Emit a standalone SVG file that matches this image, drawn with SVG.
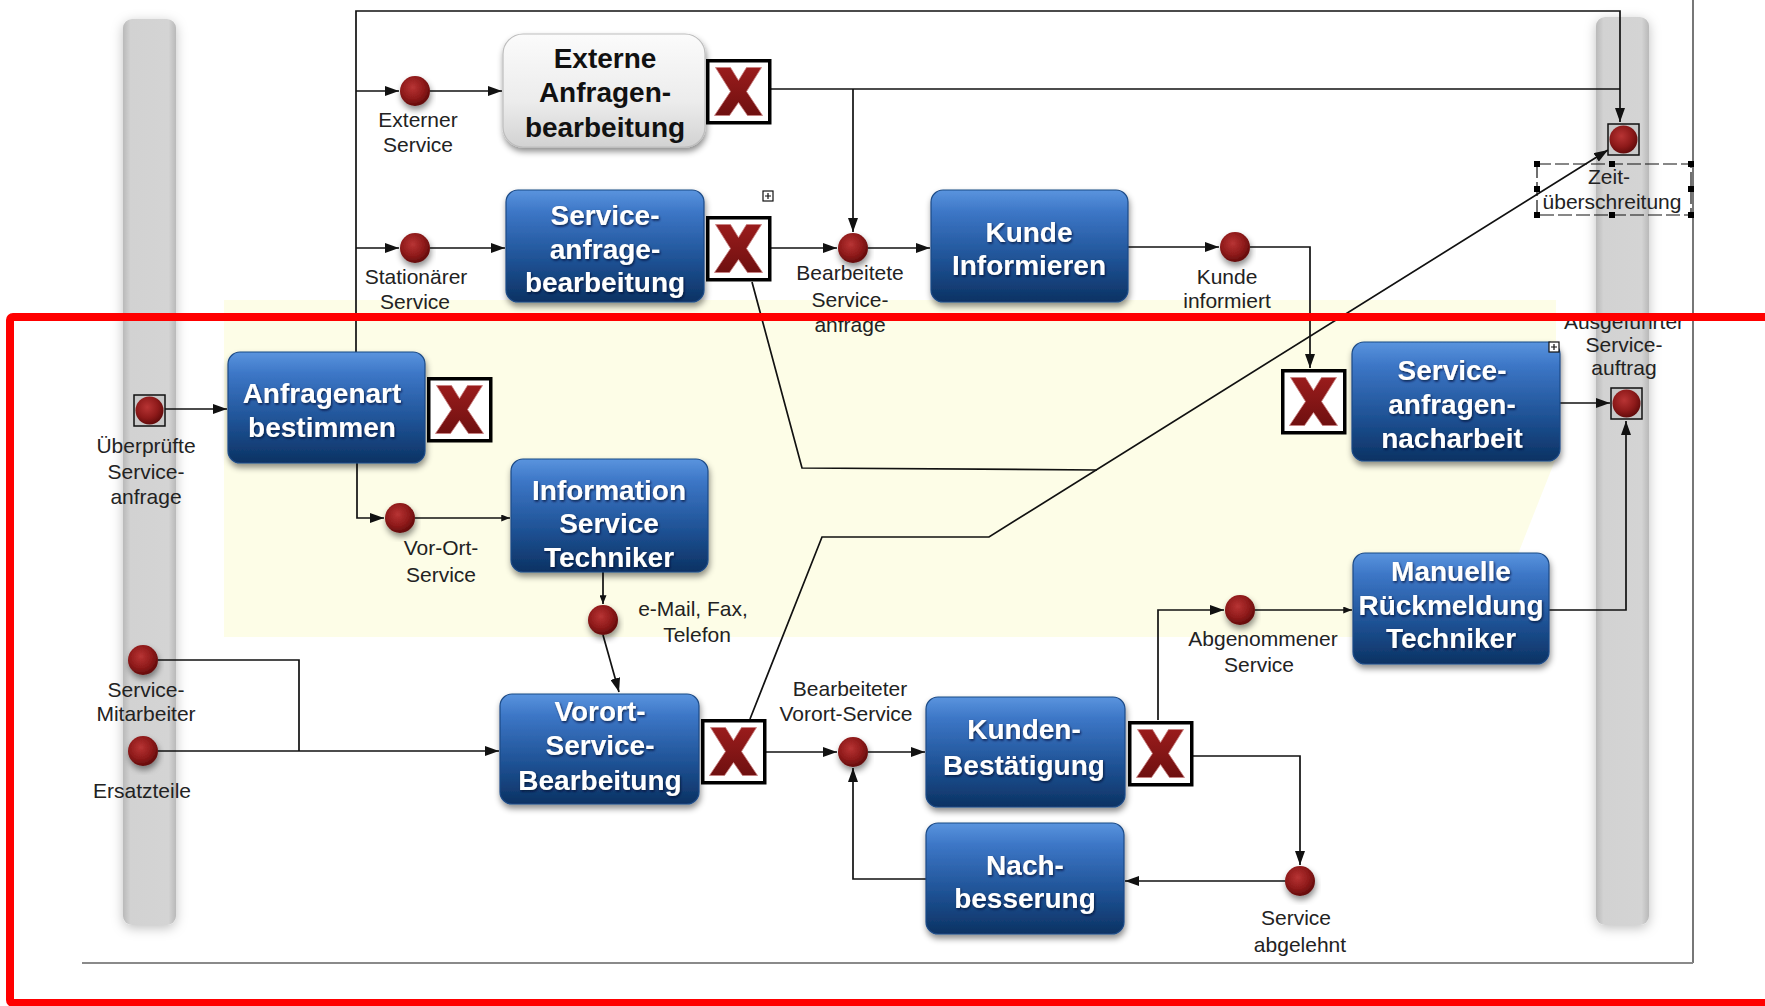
<svg xmlns="http://www.w3.org/2000/svg" xmlns:xlink="http://www.w3.org/1999/xlink" width="1765" height="1006" viewBox="0 0 1765 1006">
<defs>
<style>
.lbl{font-family:"Liberation Sans",Arial,sans-serif;font-size:21px;fill:#222;text-anchor:middle}
.tw{font-family:"Liberation Sans",Arial,sans-serif;font-size:28px;font-weight:bold;fill:#fff;text-anchor:middle}
.tb{font-family:"Liberation Sans",Arial,sans-serif;font-size:28px;font-weight:bold;fill:#111;text-anchor:middle}
.task{fill:url(#blue);stroke:#1b4a86;stroke-width:1.2}
.con{fill:none;stroke:#111;stroke-width:1.7}
.bar{fill:url(#barg)}
</style>
<linearGradient id="blue" x1="0" y1="0" x2="0" y2="1">
<stop offset="0" stop-color="#5a94de"/>
<stop offset="0.2" stop-color="#3c76c6"/>
<stop offset="0.65" stop-color="#1d5092"/>
<stop offset="1" stop-color="#0c3263"/>
</linearGradient>
<linearGradient id="grayb" x1="0" y1="0" x2="0" y2="1">
<stop offset="0" stop-color="#fbfbfb"/>
<stop offset="0.6" stop-color="#ececec"/>
<stop offset="1" stop-color="#d2d2d2"/>
</linearGradient>
<linearGradient id="barg" x1="0" y1="0" x2="1" y2="0">
<stop offset="0" stop-color="#b9b9b9"/>
<stop offset="0.14" stop-color="#d2d2d2"/>
<stop offset="0.86" stop-color="#d4d4d4"/>
<stop offset="1" stop-color="#b9b9b9"/>
</linearGradient>
<radialGradient id="red" cx="0.42" cy="0.38" r="0.65">
<stop offset="0" stop-color="#b83434"/>
<stop offset="0.6" stop-color="#8e1a1a"/>
<stop offset="1" stop-color="#5e0a0a"/>
</radialGradient>
<linearGradient id="xr" x1="0" y1="0" x2="0" y2="1">
<stop offset="0" stop-color="#9a1c1c"/>
<stop offset="1" stop-color="#6f1010"/>
</linearGradient>
<filter id="sh" x="-20%" y="-20%" width="140%" height="150%">
<feDropShadow dx="1" dy="4" stdDeviation="3" flood-color="#000" flood-opacity="0.45"/>
</filter>
<filter id="bsh" x="-60%" y="-5%" width="220%" height="110%">
<feDropShadow dx="0" dy="3" stdDeviation="6" flood-color="#000" flood-opacity="0.25"/>
</filter>
<filter id="tsh" x="-10%" y="-30%" width="120%" height="160%">
<feDropShadow dx="1" dy="1.5" stdDeviation="0.8" flood-color="#001030" flood-opacity="0.8"/>
</filter>
<marker id="ar" viewBox="0 0 14 10" refX="14" refY="5" markerWidth="14" markerHeight="10" markerUnits="userSpaceOnUse" orient="auto">
<path d="M0,0 L14,5 L0,10 z" fill="#111"/>
</marker>
<marker id="ars" viewBox="0 0 10 8" refX="10" refY="4" markerWidth="9" markerHeight="7" markerUnits="userSpaceOnUse" orient="auto">
<path d="M0,0 L10,4 L0,8 z" fill="#111"/>
</marker>
<g id="gw">
<rect x="1.75" y="1.75" width="62" height="62" fill="#fff" stroke="#000" stroke-width="3.5"/>
<polygon points="9.5,8.5 24.5,8.5 32.5,21.5 40.5,8.5 55.5,8.5 40.5,32.5 56.5,56.5 41.5,56.5 32.5,43.5 23.5,56.5 8.5,56.5 24.5,32.5" fill="url(#xr)" stroke="#c98080" stroke-width="0.8"/>
</g>
<g id="ev">
<circle r="15" fill="url(#red)" filter="url(#sh)"/>
</g>
<g id="sq">
<rect x="0" y="0" width="31" height="31" fill="#c9c9c9" stroke="#111" stroke-width="1.5"/>
<circle cx="15.5" cy="15.5" r="14" fill="url(#red)"/>
</g>
<g id="icon">
<rect x="0" y="0" width="10" height="10" fill="#fff" stroke="#111" stroke-width="1.2"/>
<path d="M5,2 V8 M2,5 H8" stroke="#111" stroke-width="1.2"/>
</g>
</defs>

<rect width="1765" height="1006" fill="#fff"/>

<g id="background">
<polygon points="224,300 1556,300 1556,458 1485,637 224,637" fill="#fdfde7"/>
<rect class="bar" x="123" y="19" width="53" height="906" rx="9" filter="url(#bsh)"/>
<rect class="bar" x="1596" y="17" width="53" height="908" rx="9" filter="url(#bsh)"/>
<line x1="1693" y1="0" x2="1693" y2="963" stroke="#777" stroke-width="2"/>
<line x1="82" y1="963" x2="1693" y2="963" stroke="#8a8a8a" stroke-width="2"/>
</g>

<g id="connectors">
<path class="con" d="M356,352 V11 H1620 V122" marker-end="url(#ar)"/>
<path class="con" d="M356,91 H399" marker-end="url(#ar)"/>
<path class="con" d="M430,91 H502" marker-end="url(#ar)"/>
<path class="con" d="M356,248 H399" marker-end="url(#ar)"/>
<path class="con" d="M430,248 H505" marker-end="url(#ar)"/>
<path class="con" d="M771,89 H1620"/>
<path class="con" d="M853,89 V232" marker-end="url(#ar)"/>
<path class="con" d="M771,248 H837" marker-end="url(#ar)"/>
<path class="con" d="M868,248 H930" marker-end="url(#ar)"/>
<path class="con" d="M1128,247 H1219" marker-end="url(#ar)"/>
<path class="con" d="M1250,247 H1310 V368" marker-end="url(#ar)"/>
<path class="con" d="M752,282 L802,468 L1097,470"/>
<path class="con" d="M750,719 L822,537 L989,537 L1608,150" marker-end="url(#ar)"/>
<path class="con" d="M165,409 H227" marker-end="url(#ar)"/>
<path class="con" d="M357,463 V518 H384" marker-end="url(#ar)"/>
<path class="con" d="M415,518 H510" marker-end="url(#ars)"/>
<path class="con" d="M603,572 V604" marker-end="url(#ars)"/>
<path class="con" d="M603,635 L619,692" marker-end="url(#ar)"/>
<path class="con" d="M158,660 H299 V751"/>
<path class="con" d="M158,751 H499" marker-end="url(#ar)"/>
<path class="con" d="M766,752 H837" marker-end="url(#ar)"/>
<path class="con" d="M868,752 H925" marker-end="url(#ar)"/>
<path class="con" d="M1158,720 V610 H1224" marker-end="url(#ar)"/>
<path class="con" d="M1255,610 H1352" marker-end="url(#ars)"/>
<path class="con" d="M1549,610 H1626 V421" marker-end="url(#ar)"/>
<path class="con" d="M1560,403 H1610" marker-end="url(#ar)"/>
<path class="con" d="M1193,756 H1300 V865" marker-end="url(#ar)"/>
<path class="con" d="M1285,881 H1125" marker-end="url(#ar)"/>
<path class="con" d="M926,879 H853 V768" marker-end="url(#ar)"/>
</g>

<g id="externe-anfragenbearbeitung">
<rect x="503" y="34" width="202" height="113" rx="20" fill="url(#grayb)" stroke="#bdbdbd" stroke-width="1.2" filter="url(#sh)"/>
<text class="tb" x="605" y="68">Externe</text>
<text class="tb" x="605" y="102">Anfragen-</text>
<text class="tb" x="605" y="137">bearbeitung</text>
<use href="#gw" x="706" y="59"/>
</g>

<g id="serviceanfrage-bearbeitung">
<rect class="task" x="506" y="190" width="198" height="112" rx="12" filter="url(#sh)"/>
<g filter="url(#tsh)">
<text class="tw" x="605" y="225">Service-</text>
<text class="tw" x="605" y="259">anfrage-</text>
<text class="tw" x="605" y="292">bearbeitung</text>
</g>
<use href="#gw" x="706" y="216"/>
<use href="#icon" x="763" y="191"/>
</g>

<g id="kunde-informieren">
<rect class="task" x="931" y="190" width="197" height="112" rx="12" filter="url(#sh)"/>
<g filter="url(#tsh)">
<text class="tw" x="1029" y="242">Kunde</text>
<text class="tw" x="1029" y="275">Informieren</text>
</g>
</g>

<g id="anfragenart-bestimmen">
<rect class="task" x="228" y="352" width="197" height="111" rx="12" filter="url(#sh)"/>
<g filter="url(#tsh)">
<text class="tw" x="322" y="403">Anfragenart</text>
<text class="tw" x="322" y="437">bestimmen</text>
</g>
<use href="#gw" x="427" y="377"/>
</g>

<g id="information-service-techniker">
<rect class="task" x="511" y="459" width="197" height="113" rx="12" filter="url(#sh)"/>
<g filter="url(#tsh)">
<text class="tw" x="609" y="500">Information</text>
<text class="tw" x="609" y="533">Service</text>
<text class="tw" x="609" y="567">Techniker</text>
</g>
</g>

<g id="vorort-service-bearbeitung">
<rect class="task" x="500" y="694" width="199" height="110" rx="12" filter="url(#sh)"/>
<g filter="url(#tsh)">
<text class="tw" x="600" y="721">Vorort-</text>
<text class="tw" x="600" y="755">Service-</text>
<text class="tw" x="600" y="790">Bearbeitung</text>
</g>
<use href="#gw" x="701" y="719"/>
</g>

<g id="kunden-bestaetigung">
<rect class="task" x="926" y="697" width="199" height="110" rx="12" filter="url(#sh)"/>
<g filter="url(#tsh)">
<text class="tw" x="1024" y="739">Kunden-</text>
<text class="tw" x="1024" y="775">Bestätigung</text>
</g>
<use href="#gw" x="1128" y="721"/>
</g>

<g id="nachbesserung">
<rect class="task" x="926" y="823" width="198" height="111" rx="12" filter="url(#sh)"/>
<g filter="url(#tsh)">
<text class="tw" x="1025" y="875">Nach-</text>
<text class="tw" x="1025" y="908">besserung</text>
</g>
</g>

<g id="serviceanfragen-nacharbeit">
<rect class="task" x="1352" y="342" width="208" height="119" rx="12" filter="url(#sh)"/>
<g filter="url(#tsh)">
<text class="tw" x="1452" y="380">Service-</text>
<text class="tw" x="1452" y="414">anfragen-</text>
<text class="tw" x="1452" y="448">nacharbeit</text>
</g>
<use href="#gw" x="1281" y="369"/>
<use href="#icon" x="1549" y="342"/>
</g>

<g id="manuelle-rueckmeldung-techniker">
<rect class="task" x="1353" y="553" width="196" height="111" rx="12" filter="url(#sh)"/>
<g filter="url(#tsh)">
<text class="tw" x="1451" y="581">Manuelle</text>
<text class="tw" x="1451" y="615">Rückmeldung</text>
<text class="tw" x="1451" y="648">Techniker</text>
</g>
</g>

<g id="ev-externer-service">
<use href="#ev" x="415" y="91"/>
<text class="lbl" x="418" y="127">Externer</text>
<text class="lbl" x="418" y="152">Service</text>
</g>
<g id="ev-stationaerer-service">
<use href="#ev" x="415" y="248"/>
<text class="lbl" x="416" y="284">Stationärer</text>
<text class="lbl" x="415" y="309">Service</text>
</g>
<g id="ev-bearbeitete-serviceanfrage">
<use href="#ev" x="853" y="248"/>
<text class="lbl" x="850" y="280">Bearbeitete</text>
<text class="lbl" x="850" y="307">Service-</text>
<text class="lbl" x="850" y="332">anfrage</text>
</g>
<g id="ev-kunde-informiert">
<use href="#ev" x="1235" y="247"/>
<text class="lbl" x="1227" y="284">Kunde</text>
<text class="lbl" x="1227" y="308">informiert</text>
</g>
<g id="ev-vor-ort-service">
<use href="#ev" x="400" y="518"/>
<text class="lbl" x="441" y="555">Vor-Ort-</text>
<text class="lbl" x="441" y="582">Service</text>
</g>
<g id="ev-email-fax-telefon">
<use href="#ev" x="603" y="620"/>
<text class="lbl" x="693" y="616">e-Mail, Fax,</text>
<text class="lbl" x="697" y="642">Telefon</text>
</g>
<g id="ev-service-mitarbeiter">
<use href="#ev" x="143" y="660"/>
<text class="lbl" x="146" y="697">Service-</text>
<text class="lbl" x="146" y="721">Mitarbeiter</text>
</g>
<g id="ev-ersatzteile">
<use href="#ev" x="143" y="751"/>
<text class="lbl" x="142" y="798">Ersatzteile</text>
</g>
<g id="ev-bearbeiteter-vorort-service">
<use href="#ev" x="853" y="752"/>
<text class="lbl" x="850" y="696">Bearbeiteter</text>
<text class="lbl" x="846" y="721">Vorort-Service</text>
</g>
<g id="ev-abgenommener-service">
<use href="#ev" x="1240" y="610"/>
<text class="lbl" x="1263" y="646">Abgenommener</text>
<text class="lbl" x="1259" y="672">Service</text>
</g>
<g id="ev-service-abgelehnt">
<use href="#ev" x="1300" y="881"/>
<text class="lbl" x="1296" y="925">Service</text>
<text class="lbl" x="1300" y="952">abgelehnt</text>
</g>
<g id="ev-ueberpruefte-serviceanfrage">
<use href="#sq" x="134" y="395"/>
<text class="lbl" x="146" y="453">Überprüfte</text>
<text class="lbl" x="146" y="479">Service-</text>
<text class="lbl" x="146" y="504">anfrage</text>
</g>
<g id="ev-zeitueberschreitung">
<use href="#sq" x="1608" y="124"/>
<rect x="1537" y="164" width="154" height="51" fill="none" stroke="#111" stroke-width="1.2" stroke-dasharray="14,4"/>
<g fill="#000">
<rect x="1534" y="161" width="6" height="6"/><rect x="1609" y="161" width="6" height="6"/><rect x="1688" y="161" width="6" height="6"/>
<rect x="1534" y="186" width="6" height="6"/><rect x="1688" y="186" width="6" height="6"/>
<rect x="1534" y="212" width="6" height="6"/><rect x="1609" y="212" width="6" height="6"/><rect x="1688" y="212" width="6" height="6"/>
</g>
<text class="lbl" x="1609" y="184">Zeit-</text>
<text class="lbl" x="1612" y="209">überschreitung</text>
</g>
<g id="ev-ausgefuehrter-serviceauftrag">
<use href="#sq" x="1611" y="388"/>
<text class="lbl" x="1624" y="329">Ausgeführter</text>
<text class="lbl" x="1624" y="352">Service-</text>
<text class="lbl" x="1624" y="375">auftrag</text>
</g>

<rect id="highlight" x="10" y="317" width="1770" height="686" rx="3" fill="none" stroke="#ff0000" stroke-width="8"/>
</svg>
